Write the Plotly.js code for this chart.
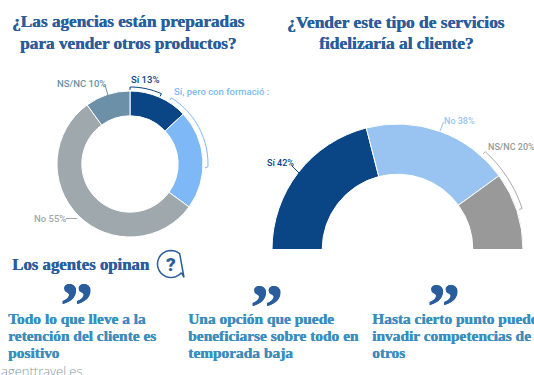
<!DOCTYPE html>
<html><head><meta charset="utf-8">
<script src="https://cdn.plot.ly/plotly-3.0.1.min.js"></script>
<style>html,body{margin:0;padding:0;background:#fff;overflow:hidden}#c{width:534px;height:375px}</style>
</head><body><div id="c"></div>
<script>
const W=534,H=375;
const prepCategories=["Sí","Sí, pero con formación","No","NS/NC"];
const prepValues=[13,22,55,10];
const prepColors=["#0a4585","#7fb8f7","#9fa8ad","#6c90a8"];
const fidCategories=["Sí","No","NS/NC"];
const fidValues=[42,38,20];
const fidColors=["#0a4585","#99c4f2","#999999"];
const titleLeft=["¿Las agencias están preparadas","para vender otros productos?"];
const titleRight=["¿Vender este tipo de servicios","fidelizaría al cliente?"];
const quotes=[["Todo lo que lleve a la","retención del cliente es","positivo"],["Una opción que puede","beneficiarse sobre todo en","temporada baja"],["Hasta cierto punto puede","invadir competencias de","otros"]];

const px=x=>x/W, py=y=>1-y/H;
const SERIF='"Liberation Serif",serif', SANS='Roboto,sans-serif';
const TITLE='#2a5d9c', QUOTE='#3a8dbd';
function dom(cx,cy,r){return {x:[px(cx-r),px(cx+r)],y:[py(cy+r),py(cy-r)]};}
function arc(cx,cy,r,a0,a1,tick){
  const pts=[];
  for(let a=a0;a<=a1+.01;a+=3){const t=a*Math.PI/180;pts.push([cx+r*Math.sin(t),cy-r*Math.cos(t)]);}
  const p=a=>{const t=a*Math.PI/180;return [cx+(r-tick)*Math.sin(t),cy-(r-tick)*Math.cos(t)];};
  const all=[p(a0),...pts,p(a1)];
  return 'M'+all.map(q=>px(q[0]).toFixed(5)+' '+py(q[1]).toFixed(5)).join('L');
}
function line(x0,y0,x1,y1,c){return {type:'line',xref:'paper',yref:'paper',x0:px(x0),y0:py(y0),x1:px(x1),y1:py(y1),line:{color:c,width:1}};}
function arcShape(cx,cy,r,a0,a1,c){return {type:'path',xref:'paper',yref:'paper',path:arc(cx,cy,r,a0,a1,3),line:{color:c,width:1}};}
function note(x,y,text,o){return Object.assign({xref:'paper',yref:'paper',x:px(x),y:py(y),text,showarrow:false,xanchor:'left',yanchor:'middle',align:'left',borderpad:0,font:{family:SANS,size:10,color:'#555'}},o||{});}
function heavy(size,color){return {family:SERIF,size,color,weight:700,shadow:'0.5px 0 0 '+color};}

const sum=fidValues.reduce((a,b)=>a+b,0);
const traces=[
 {type:'pie',labels:prepCategories,values:prepValues,sort:false,direction:'clockwise',rotation:0,hole:.66,
  domain:dom(130,164,73),marker:{colors:prepColors,line:{color:'#fff',width:1}},textinfo:'none',hoverinfo:'skip',showlegend:false},
 {type:'pie',labels:[...fidCategories,''],values:[...fidValues,sum],sort:false,direction:'clockwise',rotation:270,hole:.6,
  domain:dom(397.5,249.5,125.5),marker:{colors:[...fidColors,'rgba(255,255,255,0)'],line:{color:['#fff','#fff','#fff','rgba(255,255,255,0)'],width:1}},textinfo:'none',hoverinfo:'skip',showlegend:false}
];
const shapes=[
 arcShape(130,164,77,0,24,'#0a4585'),
 arcShape(130,164,78,32,93,'#7fb8f7'),
 arcShape(397.5,249,131,42,72,'#aaaaaa'),
 line(105,85,108.5,97,'#6c90a8'),
 line(66,218.5,77,218.5,'#9fa8ad'),
 line(292,166,299,173,'#0a4585'),
 line(443.5,122,440,131,'#99c4f2'),
 {type:'path',xref:'paper',yref:'paper',line:{color:TITLE,width:1.5},
  path:(()=>{const c=[171,264],r=13.5,p=[];for(let a=130;a<=400;a+=10){const t=a*Math.PI/180;p.push([c[0]+r*Math.sin(t),c[1]-r*Math.cos(t)]);}
   p.push([184,277.5]);p.push(p[0]);return 'M'+p.map(q=>px(q[0]).toFixed(5)+' '+py(q[1]).toFixed(5)).join('L');})()}
];
const lab=(x,y,t,c,s)=>note(x,y,t,{font:{family:SANS,size:s||9.5,color:c,weight:500}});
const annotations=[
 note(128,22,titleLeft[0],{xanchor:'center',font:heavy(17.2,TITLE)}),
 note(128,43,titleLeft[1],{xanchor:'center',font:heavy(17.2,TITLE)}),
 note(396,22,titleRight[0],{xanchor:'center',font:heavy(17.4,TITLE)}),
 note(396,43,titleRight[1],{xanchor:'center',font:heavy(17.4,TITLE)}),
 lab(130,79,'Sí 13%','#0a4585'),
 lab(173,92,'Sí, pero con formació :','#7fb8f7'),
 lab(56,84,'NS/NC 10%','#6c90a8'),
 lab(33,218.5,'No 55%','#9fa8ad'),
 lab(265.5,163,'Sí 42%','#0a4585',9),
 lab(443,120.5,'No 38%','#99c4f2',9),
 lab(487,146.5,'NS/NC 20%','#999999',9),
 note(10.5,264,'Los agentes opinan',{font:heavy(16.8,TITLE)}),
 note(171,264,'?',{xanchor:'center',font:{family:SANS,size:19,color:TITLE,weight:900}}),
 note(76,304,'”',{xanchor:'center',font:heavy(66,TITLE)}),
 note(266,306,'”',{xanchor:'center',font:heavy(66,TITLE)}),
 note(443,305,'”',{xanchor:'center',font:heavy(66,TITLE)})
];
[6.5,187,371].forEach((x,i)=>quotes[i].forEach((t,j)=>annotations.push(note(x,318+j*17,t,{font:heavy(15.4,QUOTE)}))));
annotations.push(note(0,370.5,'agenttravel.es',{font:{family:'"Open Sans",sans-serif',size:13,color:'#7f9aa8',weight:300}}));
Plotly.newPlot('c',traces,{width:W,height:H,margin:{l:0,r:0,t:0,b:0},paper_bgcolor:'#fff',showlegend:false,shapes,annotations},{displayModeBar:false,staticPlot:true});
</script></body></html>
